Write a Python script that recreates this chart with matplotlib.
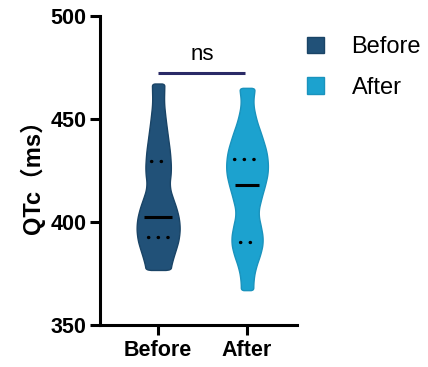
import numpy as np
import matplotlib
matplotlib.use("Agg")
import matplotlib.pyplot as plt
from matplotlib.patches import Patch

categories = ["Before", "After"]
colors = ["#215178", "#1ca2cf"]
edge_colors = ["#1a4466", "#1a93bd"]

# violin outlines: QTc value levels and half-widths (in category units)
before_levels = [376.8, 378.4, 383.2, 388.0, 393.0, 399.5, 406.0, 412.4, 417.3, 425.4, 433.5, 441.6, 449.8, 457.9, 467.3]
before_half = [0.135, 0.144, 0.172, 0.210, 0.239, 0.244, 0.213, 0.160, 0.125, 0.146, 0.135, 0.110, 0.085, 0.065, 0.070]
after_levels = [367.0, 371.9, 378.4, 384.9, 391.4, 399.5, 404.4, 412.4, 419.0, 425.4, 433.5, 441.6, 449.8, 457.9, 465.2]
after_half = [0.070, 0.070, 0.099, 0.155, 0.183, 0.149, 0.121, 0.165, 0.210, 0.239, 0.225, 0.169, 0.103, 0.065, 0.088]

medians = [402.6, 417.8]
q1 = [392.8, 390.2]
q3 = [429.8, 430.6]

yticks = [350, 400, 450, 500]

fig = plt.figure(figsize=(4.28, 3.67), dpi=100)
ax = fig.add_axes([0.234, 0.114, 0.460, 0.842])

profiles = [(before_levels, before_half), (after_levels, after_half)]
q_scale = [(0.5, 0.55), (0.45, 0.62)]
for i, (lv, hw) in enumerate(profiles):
    lv = np.asarray(lv); hw = np.asarray(hw)
    yy = np.linspace(lv[0], lv[-1], 400)
    ww = np.interp(yy, lv, hw)
    k = 15
    pad = np.pad(ww, k, mode="edge")
    ww = np.convolve(pad, np.ones(2 * k + 1) / (2 * k + 1), mode="same")[k:-k]
    n = 6
    ends = np.sqrt(np.clip(1 - (np.linspace(1, 0, n)) ** 2, 0, 1))
    ww[:n] *= 0.6 + 0.4 * ends
    ww[-n:] *= (0.6 + 0.4 * ends)[::-1]
    ax.fill_betweenx(yy, i - ww, i + ww, facecolor=colors[i],
                     edgecolor=edge_colors[i], linewidth=1.0, zorder=2)
    wm = np.interp(medians[i], lv, hw) * 0.68
    ax.plot([i - wm, i + wm], [medians[i]] * 2, color="black", lw=2.2,
            solid_capstyle="butt", zorder=3)
    for q, sc in zip((q1[i], q3[i]), q_scale[i]):
        wq = np.interp(q, lv, hw) * sc
        ax.plot([i - wq, i + wq], [q] * 2, color="black", lw=2.4,
                linestyle=(0, (0.1, 2.8)), dash_capstyle="round", zorder=3)

# significance bar
ax.plot([0.0, 0.98], [472.6, 472.6], color="#2a2a66", lw=2.2,
        solid_capstyle="butt", clip_on=False)
ax.text(0.5, 476.5, "ns", ha="center", va="bottom", fontsize=16,
        family="Liberation Sans")

ax.set_xlim(-0.652, 1.562)
ax.set_ylim(350, 500)
ax.set_yticks(yticks)
ax.set_xticks([0, 1])
ax.set_xticklabels(categories)
for s in ["top", "right"]:
    ax.spines[s].set_visible(False)
for s in ["left", "bottom"]:
    ax.spines[s].set_linewidth(2.2)
ax.tick_params(width=2.2, length=7, labelsize=15.5)
ax.tick_params(axis="x", pad=4)
ax.tick_params(axis="y", pad=3)
for lab in ax.get_xticklabels() + ax.get_yticklabels():
    lab.set_fontweight("bold")
    lab.set_family("Liberation Sans")

ax.set_ylabel("QTc（ms）", fontsize=17, fontweight="bold",
              family=["Liberation Sans", "Noto Sans CJK SC"], labelpad=4)

handles = [Patch(facecolor=colors[i], edgecolor=edge_colors[i], label=categories[i])
           for i in range(2)]
leg = fig.legend(handles=handles, loc="upper left", bbox_to_anchor=(0.718, 0.901),
                 frameon=False, borderpad=0, borderaxespad=0,
                 handlelength=0.72, handleheight=0.72,
                 handletextpad=1.15, labelspacing=0.77,
                 prop={"family": "Liberation Sans", "size": 17})

fig.savefig("out.png", dpi=100)
